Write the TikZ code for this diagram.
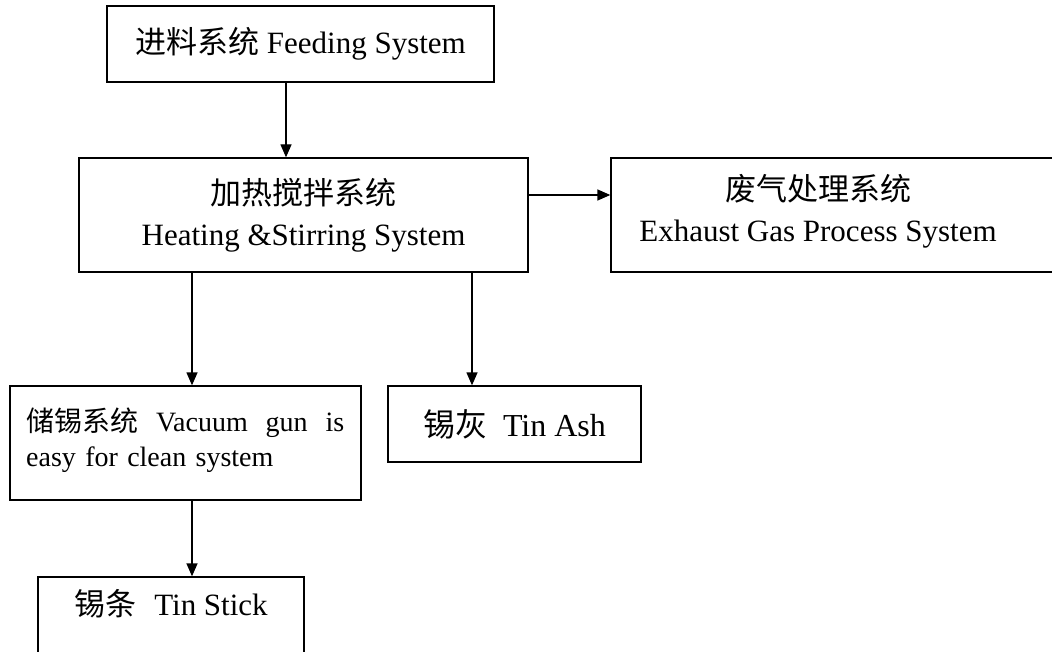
\documentclass[tikz,border=0pt]{standalone}
\usepackage{fontspec}
\setmainfont{Liberation Serif}
\newfontfamily\cjk{Noto Sans CJK SC}
\usetikzlibrary{arrows.meta}
\begin{document}
\begin{tikzpicture}[x=1pt,y=1pt,
  box/.style={draw, line width=1.3pt, inner sep=0pt, align=center,
    font=\fontsize{31}{41}\selectfont},
  txt/.style={inner sep=0pt, align=center, font=\fontsize{31}{41}\selectfont},
  arr/.style={line width=1.3pt, -{Triangle[length=13pt,width=11pt]}}]
\useasboundingbox (0,0) rectangle (1052,-652);
\clip (0,0) rectangle (1052,-652);
% boxes
\node[box, minimum width=387pt, minimum height=76pt] (feed) at (300.5,-44)
  {{\cjk 进料系统} Feeding System};
\node[box, minimum width=449pt, minimum height=114pt] (heat) at (303.5,-215)
  {{\cjk 加热搅拌系统}\\Heating \&Stirring System};
\node[box, minimum width=459pt, minimum height=114pt] (exh) at (840.5,-215) {};
\node[txt] (exhtext) at (818,-211)
  {{\cjk 废气处理系统}\\Exhaust Gas Process System};
\node[box, minimum width=351pt, minimum height=114pt] (store) at (185.5,-443) {};
\node[txt, anchor=north west, align=left, text width=318pt,
  font=\fontsize{28}{35}\selectfont] (storetext) at (26,-408)
  {{\cjk 储锡系统}\hfill Vacuum\hfill gun\hfill is\\easy for clean system};
\node[box, minimum width=253pt, minimum height=76pt, font=\fontsize{32}{40}\selectfont] (ash) at (514.5,-424)
  {{\cjk 锡灰}\hspace{16pt}Tin Ash};
\node[box, minimum width=266pt, minimum height=90pt] (stick) at (171,-622) {};
\node[txt] (sticktext) at (171,-604) {{\cjk 锡条}\hspace{18pt}Tin Stick};
% connectors
\coordinate (c0) at (286,0);
\coordinate (c1) at (192,0);
\coordinate (c2) at (472,0);
\draw[arr] (feed.south -| c0) -- (heat.north -| c0);
\draw[arr] ([yshift=20pt]heat.east) -- ([yshift=20pt]heat.east -| exh.west);
\draw[arr] (heat.south -| c1) -- (store.north -| c1);
\draw[arr] (heat.south -| c2) -- (ash.north -| c2);
\draw[arr] (store.south -| c1) -- (stick.north -| c1);
\end{tikzpicture}
\end{document}
